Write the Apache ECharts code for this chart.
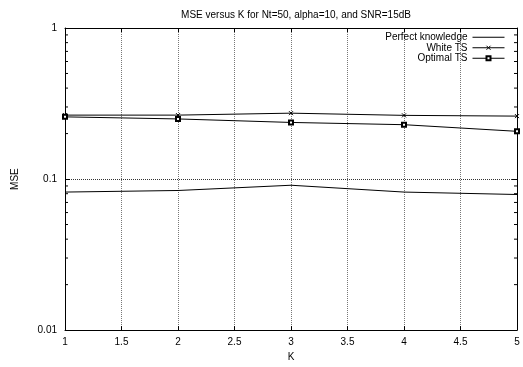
<!DOCTYPE html>
<html><head><meta charset="UTF-8">
<title>MSE versus K</title>
<script src="https://cdn.jsdelivr.net/npm/echarts@6/dist/echarts.min.js"></script>
<style>html,body{margin:0;padding:0;background:#fff;}</style>
</head>
<body>
<div id="g1" style="width:523px;height:367px;"></div>
<script type="text/javascript">
// values
var kValues = [1, 2, 3, 4, 5];
var perfect = [0.082, 0.084, 0.091, 0.082, 0.079];
var whiteTS = [0.265, 0.265, 0.273, 0.264, 0.261];
var optimalTS = [0.258, 0.25, 0.237, 0.229, 0.207];
var yMinorTicks = [0.02, 0.03, 0.04, 0.05, 0.06, 0.07, 0.08, 0.09,
                   0.2, 0.3, 0.4, 0.5, 0.6, 0.7, 0.8, 0.9];

function pairs(ys) {
    return kValues.map(function (k, i) { return [k, ys[i]]; });
}

var font = 'Liberation Sans, Arial, sans-serif';
var axisBlack = {lineStyle: {color: '#000', width: 1}};

var option = {
    animation: false,
    backgroundColor: '#fff',
    title: {
        text: 'MSE versus K for Nt=50, alpha=10, and SNR=15dB',
        left: 291, top: 5, textAlign: 'center',
        textStyle: {fontFamily: font, fontSize: 10, fontWeight: 'normal', color: '#000'}
    },
    legend: {
        data: [
            {name: 'Perfect knowledge', icon: 'path://M0,0H32V1H0Z'},
            'White TS',
            'Optimal TS'
        ],
        orient: 'vertical', align: 'right',
        right: 18, top: 32, padding: 0,
        itemWidth: 32, itemHeight: 5, itemGap: 0,
        lineStyle: {width: 1},
        itemStyle: {borderWidth: 1},
        textStyle: {fontFamily: font, fontSize: 10, lineHeight: 10.5, color: '#000'}
    },
    grid: {left: 65, right: 6, top: 28, bottom: 30},
    xAxis: [{
        type: 'value', min: 1, max: 5, interval: 0.5,
        name: 'K', nameLocation: 'middle', nameGap: 19,
        nameTextStyle: {fontFamily: font, fontSize: 10, color: '#000'},
        axisLine: axisBlack,
        axisTick: {inside: true, length: 4, lineStyle: {color: '#000'}},
        axisLabel: {fontFamily: font, fontSize: 10, color: '#000', margin: 7},
        splitLine: {show: true, lineStyle: {color: '#777', type: 'dotted', width: 1}}
    }, {
        type: 'value', min: 1, max: 5, interval: 0.5, position: 'top',
        axisLine: axisBlack,
        axisTick: {inside: true, length: 4, lineStyle: {color: '#000'}},
        axisLabel: {show: false}, splitLine: {show: false}
    }],
    yAxis: [{
        type: 'log', logBase: 10, min: 0.01, max: 1,
        name: 'MSE', nameLocation: 'middle', nameGap: 45, nameRotate: 90,
        nameTextStyle: {fontFamily: font, fontSize: 10, color: '#000'},
        axisLine: axisBlack,
        axisTick: {inside: true, length: 5, lineStyle: {color: '#000'}},
        axisLabel: {fontFamily: font, fontSize: 10, color: '#000', margin: 8,
                    formatter: function (v) { return String(+v.toPrecision(3)); }},
        splitLine: {show: true, lineStyle: {color: '#333', type: 'dotted', width: 1}}
    }, {
        type: 'log', logBase: 10, min: 0.01, max: 1, position: 'right',
        axisLine: axisBlack,
        axisTick: {inside: true, length: 5, lineStyle: {color: '#000'}},
        axisLabel: {show: false}, splitLine: {show: false}
    }],
    series: [{
        name: 'Perfect knowledge', type: 'line', data: pairs(perfect),
        symbol: 'none', color: '#000',
        itemStyle: {color: '#000'},
        lineStyle: {color: '#000', width: 1}
    }, {
        name: 'White TS', type: 'line', data: pairs(whiteTS),
        symbol: 'path://M0,0L10,10M10,0L0,10', symbolSize: 4, color: '#000',
        itemStyle: {color: '#000', borderColor: '#000', borderWidth: 1},
        lineStyle: {color: '#000', width: 1}
    }, {
        name: 'Optimal TS', type: 'line', data: pairs(optimalTS),
        symbol: 'emptyRect', symbolSize: 4, color: '#000',
        itemStyle: {color: '#000', borderColor: '#000', borderWidth: 1},
        lineStyle: {color: '#000', width: 1}
    }, {
        // minor ticks on the log axes (left and right)
        name: 'minor', type: 'custom', silent: true,
        data: yMinorTicks.map(function (v) { return [1, v]; }),
        renderItem: function (params, api) {
            var v = api.value(1);
            var l = api.coord([1, v]);
            var r = api.coord([5, v]);
            var st = {stroke: '#000', lineWidth: 1};
            return {type: 'group', children: [
                {type: 'line', shape: {x1: l[0], y1: l[1], x2: l[0] + 3, y2: l[1]}, style: st},
                {type: 'line', shape: {x1: r[0] - 3, y1: r[1], x2: r[0], y2: r[1]}, style: st}
            ]};
        }
    }]
};

var myChart = echarts.init(document.getElementById('g1'));
myChart.setOption(option);
</script>
</body></html>
